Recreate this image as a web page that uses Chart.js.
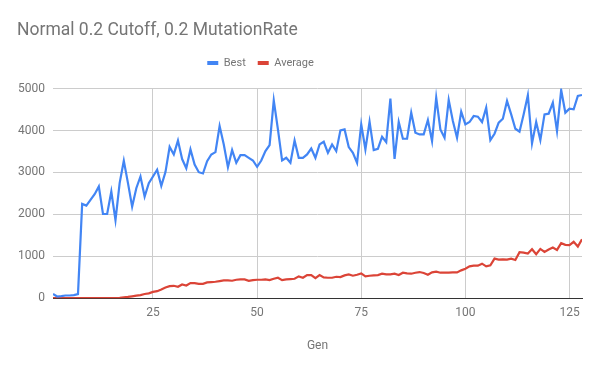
<!DOCTYPE html>
<html>
<head>
<meta charset="utf-8">
<script src="https://cdn.jsdelivr.net/npm/chart.js@4/dist/chart.umd.min.js"></script>
<style>
  html, body { margin: 0; padding: 0; background: #fff; }
</style>
</head>
<body>
<canvas id="chart" width="600" height="371"></canvas>
<script>
// Generations 1..128
const gens = Array.from({ length: 128 }, (_, i) => i + 1);

const best = [
  100, 40, 50, 64, 64, 72, 96, 2248, 2208, 2344,
  2480, 2664, 2008, 2008, 2544, 1864, 2744, 3280, 2744, 2184,
  2624, 2904, 2424, 2744, 2904, 3064, 2680, 3008, 3610, 3430,
  3760, 3320, 3100, 3549, 3190, 3006, 2975, 3270, 3429, 3485,
  4107, 3668, 3126, 3533, 3230, 3413, 3413, 3349, 3285, 3134,
  3285, 3509, 3652, 4720, 4027, 3285, 3349, 3230, 3764, 3349,
  3349, 3429, 3570, 3349, 3668, 3732, 3469, 3668, 3509, 4003,
  4027, 3604, 3469, 3230, 4147, 3549, 4211, 3533, 3565, 3852,
  3724, 4761, 3325, 4203, 3804, 3804, 4426, 3947, 3907, 3907,
  4250, 3748, 4785, 4027, 3828, 4729, 4226, 3828, 4450, 4147,
  4203, 4346, 4330, 4203, 4545, 3772, 3923, 4187, 4282, 4705,
  4386, 4043, 3971, 4386, 4841, 3692, 4203, 3772, 4386, 4402,
  4665, 3987, 4968, 4426, 4522, 4506, 4825, 4848
];

const average = [
  0, 0, 0, 0, 0, 0, 0, 0, 0, 0,
  0, 0, 0, 0, 0, 5, 10, 20, 30, 45,
  60, 75, 100, 115, 150, 168, 208, 256, 288, 296,
  272, 328, 304, 360, 360, 344, 344, 376, 384, 392,
  408, 424, 424, 416, 440, 448, 448, 416, 432, 440,
  440, 448, 432, 464, 488, 432, 448, 456, 464, 520,
  488, 552, 552, 480, 552, 496, 488, 488, 512, 504,
  544, 568, 536, 560, 592, 520, 536, 544, 552, 584,
  568, 568, 584, 552, 608, 592, 584, 608, 624, 600,
  560, 616, 632, 608, 608, 608, 616, 616, 664, 704,
  760, 776, 776, 824, 760, 784, 944, 920, 928, 920,
  944, 912, 1096, 1088, 1064, 1168, 1048, 1176, 1104, 1160,
  1208, 1152, 1312, 1272, 1264, 1344, 1232, 1408
];

const xTicks = [25, 50, 75, 100, 125];
const yTicks = [0, 1000, 2000, 3000, 4000, 5000];

const BLUE = '#4285F4';
const RED = '#DB4437';
const TEXT = '#757575';

function toPoints(values) {
  return values.map((v, i) => ({ x: gens[i], y: v }));
}

// nudge the legend up and left, the way the sheet places it
const legendShift = {
  id: 'legendShift',
  afterLayout(chart) {
    const lg = chart.legend;
    lg.left -= 39;
    lg.right -= 39;
    lg.top -= 10;
    lg.bottom -= 10;
  }
};

Chart.defaults.font.family = 'Roboto, "Open Sans", sans-serif';

new Chart(document.getElementById('chart').getContext('2d'), {
  type: 'line',
  data: {
    datasets: [{
      label: 'Best',
      data: toPoints(best),
      borderColor: BLUE,
      backgroundColor: BLUE,
      borderWidth: 2.2,
      pointRadius: 0,
      tension: 0
    }, {
      label: 'Average',
      data: toPoints(average),
      borderColor: RED,
      backgroundColor: RED,
      borderWidth: 2.2,
      pointRadius: 0,
      tension: 0
    }]
  },
  options: {
    responsive: false,
    animation: false,
    layout: {
      padding: { left: 17, right: 18, top: 0, bottom: 18 }
    },
    plugins: {
      title: {
        display: true,
        text: 'Normal 0.2 Cutoff, 0.2 MutationRate',
        align: 'start',
        color: TEXT,
        font: { size: 17.5, weight: 'normal' },
        padding: { top: 20, bottom: 14.6 }
      },
      legend: {
        position: 'top',
        labels: {
          color: TEXT,
          font: { size: 11 },
          boxWidth: 11,
          boxHeight: 4,
          padding: 12,
          generateLabels(chart) {
            return Chart.defaults.plugins.legend.labels.generateLabels(chart)
              .map(item => ({ ...item, lineWidth: 0 }));
          }
        }
      },
      tooltip: { enabled: false }
    },
    scales: {
      x: {
        type: 'linear',
        min: 1,
        max: 128,
        afterBuildTicks(scale) {
          scale.ticks = xTicks.map(v => ({ value: v }));
        },
        grid: { color: '#cccccc', drawTicks: false },
        border: { color: '#333333', width: 1 },
        ticks: { color: TEXT, font: { size: 12 }, padding: 8, maxRotation: 0 },
        title: {
          display: true,
          text: 'Gen',
          color: TEXT,
          font: { size: 12 },
          padding: { top: 10, bottom: 0 }
        }
      },
      y: {
        min: 0,
        max: 5000,
        afterBuildTicks(scale) {
          scale.ticks = yTicks.map(v => ({ value: v }));
        },
        afterFit(scale) {
          scale.width = 36;
        },
        grid: { color: '#cccccc', drawTicks: false },
        border: { display: false },
        ticks: {
          color: TEXT,
          font: { size: 12 },
          padding: 8,
          callback: v => String(v)
        }
      }
    }
  },
  plugins: [legendShift]
});
</script>
</body>
</html>
